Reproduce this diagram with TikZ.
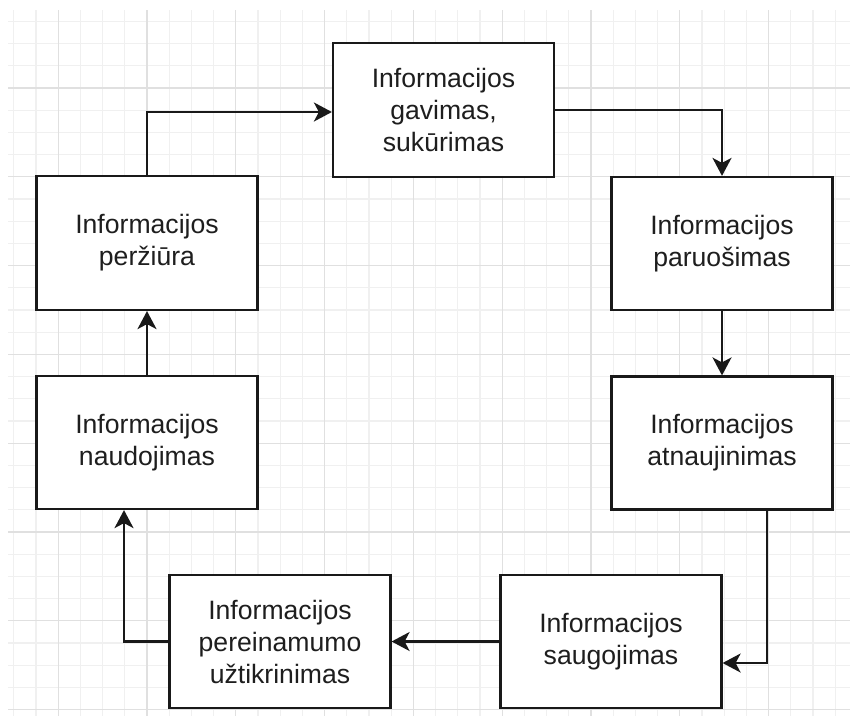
\documentclass[tikz,border=0pt]{standalone}
\usepackage{fontspec}
\setmainfont{Liberation Sans}
\usetikzlibrary{arrows.meta}
\definecolor{gridminor}{RGB}{240,240,240}
\definecolor{gridmajor}{RGB}{224,224,224}
\definecolor{txt}{RGB}{30,30,30}
\tikzset{
  procbox/.style={draw=black!90, line width=2.2pt, fill=white, rectangle,
    minimum width=221pt, minimum height=133pt, inner sep=0pt, align=center,
    text=txt, font=\fontsize{26.6}{32}\selectfont},
  conn/.style={draw=black!90, line width=2.2pt,
    -{Stealth[length=18pt, width=19pt, inset=5pt]}},
}
\begin{document}
\begin{tikzpicture}[x=1pt, y=-1pt]
\useasboundingbox (0,0) rectangle (850,716);
\fill[white] (0,0) rectangle (850,716);
% grid
\begin{scope}
\clip (8,10) rectangle (850,716);
\foreach \i in {0,...,37} \draw[gridminor, line width=1.2pt] ({13.7+22.2*\i},10) -- ({13.7+22.2*\i},716);
\foreach \j in {0,...,31} \draw[gridminor, line width=1.2pt] (8,{21.4+22.2*\j}) -- (850,{21.4+22.2*\j});
\foreach \i in {0,...,8} \draw[gridmajor, line width=1.2pt] ({58.1+88.8*\i},10) -- ({58.1+88.8*\i},716);
\foreach \j in {0,...,7} \draw[gridmajor, line width=1.2pt] (8,{88+88.8*\j}) -- (850,{88+88.8*\j});
\end{scope}
% boxes
\node[procbox, minimum height=134pt] (gav) at (443.5,110) {Informacijos\\gavimas,\\sukūrimas};
\node[procbox] (par) at (722,243.5) {Informacijos\\paruošimas};
\node[procbox] (atn) at (722,443) {Informacijos\\atnaujinimas};
\node[procbox] (sau) at (611,641.5) {Informacijos\\saugojimas};
\node[procbox] (pere) at (280,641.5) {Informacijos\\pereinamumo\\užtikrinimas};
\node[procbox] (nau) at (147,442.5) {Informacijos\\naudojimas};
\node[procbox, minimum height=134pt] (perz) at (147,243) {Informacijos\\peržiūra};
% connectors
\draw[conn] (gav.east) -| (par.north);
\draw[conn] (par.south) -- (atn.north);
\draw[conn] ([xshift=45pt]atn.south) |- ([yshift=-21.5pt]sau.east);
\draw[conn] (sau.west) -- (pere.east);
\draw[conn] (pere.west) -| ([xshift=-23pt]nau.south);
\draw[conn] (nau.north) -- (perz.south);
\draw[conn] (perz.north) |- ([yshift=-2pt]gav.west);
\end{tikzpicture}
\end{document}
